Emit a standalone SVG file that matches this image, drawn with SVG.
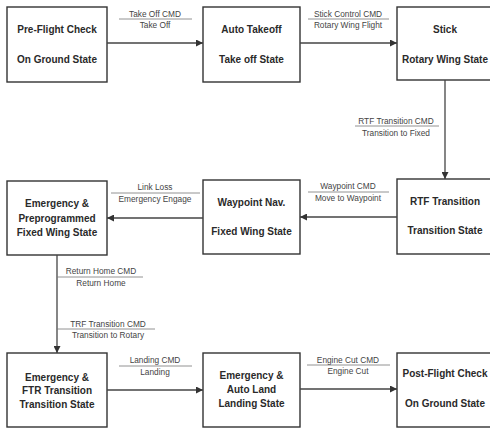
<svg xmlns="http://www.w3.org/2000/svg" width="490" height="429" viewBox="0 0 490 429">
<defs>
<marker id="ah" viewBox="0 0 10 10" refX="10" refY="5" markerWidth="7" markerHeight="7" markerUnits="userSpaceOnUse" orient="auto">
<path d="M0,0 L10,5 L0,10 z" fill="#333"/>
</marker>
<style>
.box{fill:#fff;stroke:#333;stroke-width:1.4}
.nt{font-family:"Liberation Sans",Arial,sans-serif;font-weight:bold;font-size:10px;fill:#2a2a2a;text-anchor:middle}
.lt{font-family:"Liberation Sans",Arial,sans-serif;font-size:8.3px;fill:#444;text-anchor:middle}
.edge{fill:none;stroke:#444;stroke-width:1.3;marker-end:url(#ah)}
.ul{stroke:#777;stroke-width:0.8}
</style>
</defs>
<rect width="490" height="429" fill="#fff"/>
<g id="n1"><rect class="box" x="7" y="7" width="100" height="75"/><text class="nt" x="57" y="33">Pre-Flight Check</text><text class="nt" x="57" y="63">On Ground State</text></g>
<g id="n2"><rect class="box" x="203" y="7" width="97" height="75"/><text class="nt" x="251.5" y="33">Auto Takeoff</text><text class="nt" x="251.5" y="63">Take off State</text></g>
<g id="n3"><rect class="box" x="397" y="7" width="100" height="73"/><text class="nt" x="445" y="33">Stick</text><text class="nt" x="445" y="63">Rotary Wing State</text></g>
<g id="n4"><rect class="box" x="397" y="179" width="100" height="75"/><text class="nt" x="445" y="205">RTF Transition</text><text class="nt" x="445" y="234">Transition State</text></g>
<g id="n5"><rect class="box" x="203" y="180" width="97" height="74"/><text class="nt" x="251.5" y="206">Waypoint Nav.</text><text class="nt" x="251.5" y="235">Fixed Wing State</text></g>
<g id="n6"><rect class="box" x="7" y="181" width="100" height="74"/><text class="nt" x="57" y="207">Emergency &amp;</text><text class="nt" x="57" y="221.5">Preprogrammed</text><text class="nt" x="57" y="236">Fixed Wing State</text></g>
<g id="n7"><rect class="box" x="7" y="353" width="100" height="74"/><text class="nt" x="57" y="381">Emergency &amp;</text><text class="nt" x="57" y="394">FTR Transition</text><text class="nt" x="57" y="408">Transition State</text></g>
<g id="n8"><rect class="box" x="203" y="353" width="97" height="74"/><text class="nt" x="251.5" y="379">Emergency &amp;</text><text class="nt" x="251.5" y="393">Auto Land</text><text class="nt" x="251.5" y="407">Landing State</text></g>
<g id="n9"><rect class="box" x="397" y="353" width="100" height="74"/><text class="nt" x="445" y="377">Post-Flight Check</text><text class="nt" x="445" y="407">On Ground State</text></g>
<g id="connectors">
<line class="edge" x1="107" y1="43" x2="203" y2="43"/>
<line class="ul" x1="119" y1="19" x2="192" y2="19"/><text class="lt" x="155" y="16.5">Take Off CMD</text><text class="lt" x="155" y="28">Take Off</text>
<line class="edge" x1="300" y1="43" x2="397" y2="43"/>
<line class="ul" x1="308" y1="19" x2="389" y2="19"/><text class="lt" x="348" y="16.5">Stick Control CMD</text><text class="lt" x="348" y="27.5">Rotary Wing Flight</text>
<line class="edge" x1="445" y1="80" x2="445" y2="179"/>
<line class="ul" x1="355" y1="126" x2="439" y2="126"/><text class="lt" x="396" y="123.5">RTF Transition CMD</text><text class="lt" x="396" y="136">Transition to Fixed</text>
<line class="edge" x1="397" y1="217" x2="300" y2="217"/>
<line class="ul" x1="308" y1="192" x2="389" y2="192"/><text class="lt" x="348" y="189">Waypoint CMD</text><text class="lt" x="348" y="201">Move to Waypoint</text>
<line class="edge" x1="203" y1="218" x2="107" y2="218"/>
<line class="ul" x1="111" y1="193" x2="200" y2="193"/><text class="lt" x="155" y="190">Link Loss</text><text class="lt" x="155" y="202">Emergency Engage</text>
<line class="edge" x1="57" y1="255" x2="57" y2="353"/>
<line class="ul" x1="57" y1="277" x2="143" y2="277"/><text class="lt" x="101" y="274">Return Home CMD</text><text class="lt" x="101" y="286">Return Home</text>
<line class="ul" x1="57" y1="329" x2="155" y2="329"/><text class="lt" x="108" y="326.5">TRF Transition CMD</text><text class="lt" x="108" y="338">Transition to Rotary</text>
<line class="edge" x1="107" y1="390" x2="203" y2="390"/>
<line class="ul" x1="119" y1="366" x2="192" y2="366"/><text class="lt" x="155" y="363">Landing CMD</text><text class="lt" x="155" y="375">Landing</text>
<line class="edge" x1="300" y1="389" x2="397" y2="389"/>
<line class="ul" x1="307" y1="365" x2="390" y2="365"/><text class="lt" x="348" y="362.5">Engine Cut CMD</text><text class="lt" x="348" y="374">Engine Cut</text>
</g>
</svg>
